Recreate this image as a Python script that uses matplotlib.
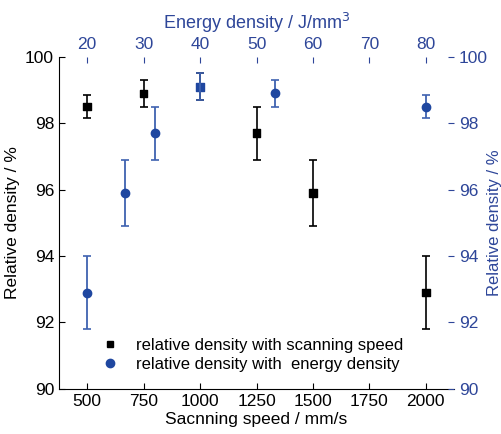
import numpy as np
import matplotlib.pyplot as plt
from matplotlib.lines import Line2D

plt.rcParams['font.family'] = ['Liberation Sans', 'DejaVu Sans']

# scanning speed series (black squares)
speed = [500, 750, 1000, 1250, 1500, 2000]
dens_speed = [98.5, 98.9, 99.1, 97.7, 95.9, 92.9]
err_speed = [0.35, 0.4, 0.4, 0.8, 1.0, 1.1]

# energy density series (blue circles)
energy = [20, 26.7, 32, 40, 53.3, 80]
dens_energy = [92.9, 95.9, 97.7, 99.1, 98.9, 98.5]
err_energy = [1.1, 1.0, 0.8, 0.4, 0.4, 0.35]

speed_ticks = [500, 750, 1000, 1250, 1500, 1750, 2000]
energy_ticks = [20, 30, 40, 50, 60, 70, 80]
dens_ticks = [90, 92, 94, 96, 98, 100]

blue = '#1f47a0'
blue_txt = '#2e4699'
blue_ax = '#5468b0'

fig = plt.figure(figsize=(5.02, 4.34), dpi=100)
ax = fig.add_axes([0.1175, 0.104, 0.787, 0.765])
ax2 = fig.add_axes(ax.get_position(), frameon=False)

ax.errorbar(speed, dens_speed, yerr=err_speed, fmt='none', ecolor='black',
            capsize=3, elinewidth=1.2, capthick=1.2, zorder=3)
# the 1000 mm/s point sits under the 40 J/mm3 point and shows in blue
sq_colors = ['black' if s != 1000 else blue for s in speed]
ax.scatter(speed, dens_speed, marker='s', s=30, c=sq_colors, zorder=4)
ax.set_xlim(375, 2125)
ax.set_ylim(90, 100)
ax.set_xticks(speed_ticks)
ax.set_yticks(dens_ticks)
ax.spines['top'].set_visible(False)
ax.spines['right'].set_visible(False)
ax.tick_params(direction='in', labelsize=12.5, length=4.5)
ax.set_xlabel('Sacnning speed / mm/s', fontsize=12.5, labelpad=2)
ax.set_ylabel('Relative density / %', fontsize=12.5, labelpad=4)

ax2.errorbar(energy, dens_energy, yerr=err_energy, fmt='none',
             ecolor='#3f62b0', capsize=3, elinewidth=1.3, capthick=1.2, zorder=3)
circ = [e != 40 for e in energy]
ax2.plot(np.array(energy)[circ], np.array(dens_energy)[circ], 'o',
         color=blue, ms=6, zorder=4)
ax2.set_xlim(15, 85)
ax2.set_ylim(90, 100)
ax2.set_xticks(energy_ticks)
ax2.set_yticks(dens_ticks)
ax2.xaxis.tick_top()
ax2.yaxis.tick_right()
ax2.xaxis.set_label_position('top')
ax2.yaxis.set_label_position('right')
for s in ['top', 'right']:
    ax2.spines[s].set_visible(True)
    ax2.spines[s].set_color(blue_ax)
ax2.spines['left'].set_visible(False)
ax2.spines['bottom'].set_visible(False)
ax2.tick_params(direction='in', labelsize=12.5, length=4.5, colors=blue_txt)
ax2.set_xlabel('Energy density / J/mm$^3$', fontsize=13, color=blue_txt, labelpad=6)
ax2.set_ylabel('Relative density / %', fontsize=12, color=blue_txt, labelpad=-1)

handles = [Line2D([], [], marker='s', ls='', color='black', ms=5),
           Line2D([], [], marker='o', ls='', color=blue, ms=6)]
ax2.legend(handles, ['relative density with scanning speed',
                     'relative density with  energy density'],
           loc='lower left', bbox_to_anchor=(0.065, 0.005), frameon=False,
           fontsize=12, handlelength=1.2, handletextpad=1.0, labelspacing=0.25)

fig.savefig('out.png', dpi=100)
